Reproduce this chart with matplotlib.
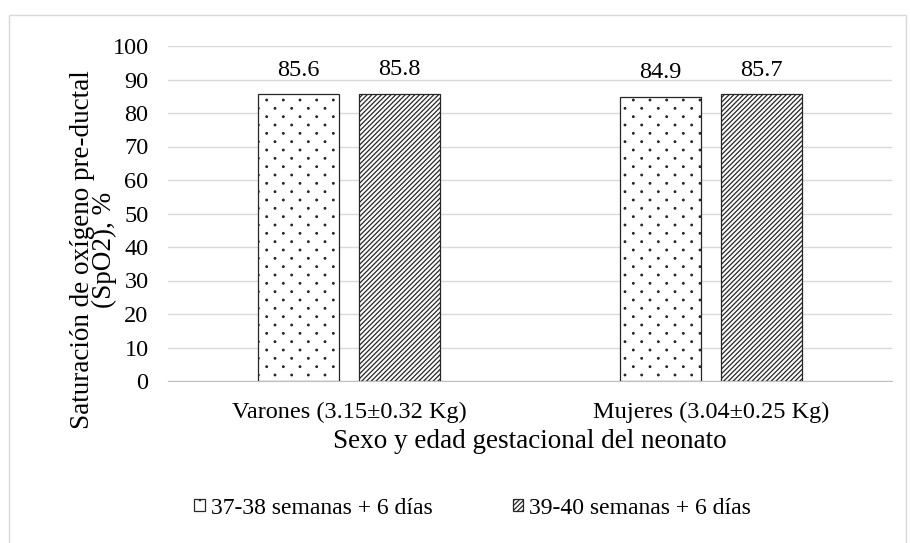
import matplotlib.pyplot as plt
import numpy as np
from matplotlib import hatch as mhatch
from matplotlib.path import Path
from matplotlib.patches import Rectangle

categories = ['Varones (3.15±0.32 Kg)', 'Mujeres (3.04±0.25 Kg)']
series_names = ['37-38 semanas + 6 días', '39-40 semanas + 6 días']
values_37 = [85.6, 84.9]
values_39 = [85.8, 85.7]


class SparseDots(mhatch.HatchPatternBase):
    # Excel-like "5%" dot pattern: rows every 1/12", dots every 1/6", staggered
    def __init__(self, hatch, density):
        self.on = hatch.count('.') > 0
        circle = Path.unit_circle()
        self.shape_vertices = circle.vertices * 0.008
        self.shape_codes = circle.codes
        self.num_shapes = 7 * 7 + 6 * 6 if self.on else 0
        self.num_vertices = self.num_shapes * len(self.shape_vertices)

    def set_vertices_and_codes(self, vertices, codes):
        vparts, cparts = [], []
        for row in range(13):
            if row % 2 == 0:
                cols = np.linspace(0, 1, 7)
            else:
                cols = np.linspace(1 / 12, 11 / 12, 6)
            for c in cols:
                vparts.append(self.shape_vertices + [c, row / 12])
                cparts.append(self.shape_codes)
        np.concatenate(vparts, out=vertices)
        np.concatenate(cparts, out=codes)


mhatch._hatch_types = [SparseDots if t is mhatch.SmallFilledCircles else t
                       for t in mhatch._hatch_types]

plt.rcParams['font.family'] = ['Liberation Serif', 'DejaVu Serif']
plt.rcParams['hatch.linewidth'] = 0.9
plt.rcParams['hatch.color'] = '#1a1a1a'

fig = plt.figure(figsize=(9.1, 5.43), dpi=100)
ax = fig.add_axes([168 / 910, 1 - 381 / 543, (892 - 168) / 910, (381 - 46) / 543])

x = np.arange(len(categories))
w = 0.224
gap = 20 / 362
b1 = ax.bar(x - (w + gap) / 2, values_37, w, facecolor='white', edgecolor='#262626',
            hatch='.', linewidth=0.9, label=series_names[0], zorder=3)
b2 = ax.bar(x + (w + gap) / 2, values_39, w, facecolor='white', edgecolor='#262626',
            hatch='/' * 7, linewidth=0.9, label=series_names[1], zorder=3)

for bars in (b1, b2):
    for r in bars:
        ax.text(r.get_x() + r.get_width() / 2, r.get_height() + 4, f'{r.get_height():.1f}',
                ha='center', va='bottom', fontsize=17.5)

ax.set_xlim(-0.5, 1.5)
ax.set_ylim(0, 100)
ax.set_yticks(range(0, 101, 10))
ax.set_xticks(x)
ax.set_xticklabels(categories, fontsize=17.5)
ax.tick_params(axis='y', labelsize=17.5, length=0, pad=14)
ax.tick_params(axis='x', length=0, pad=15)
ax.grid(axis='y', color='#d9d9d9', linewidth=1, zorder=0)
for s in ['top', 'right', 'left']:
    ax.spines[s].set_visible(False)
ax.spines['bottom'].set_color('#bfbfbf')
ax.set_xlabel('Sexo y edad gestacional del neonato', fontsize=19.5, labelpad=4)
ax.set_ylabel('Saturación de oxígeno pre-ductal\n(SpO2), %', fontsize=19.5,
              linespacing=0.85)
ax.yaxis.set_label_coords(-0.0704, 0.391)

fig.legend(handles=[b1, b2], labels=series_names, loc='center', ncol=2,
           bbox_to_anchor=(472.5 / 910, 1 - 508 / 543), frameon=False, fontsize=17,
           handlelength=0.45, handleheight=0.45, handletextpad=0.25, columnspacing=3.4)

fig.patches.append(Rectangle((9 / 910, -0.1), 897 / 910, 1.1 - 15 / 543,
                             transform=fig.transFigure, fill=False,
                             edgecolor='#d9d9d9', linewidth=1))

fig.savefig('out.png', dpi=100)
